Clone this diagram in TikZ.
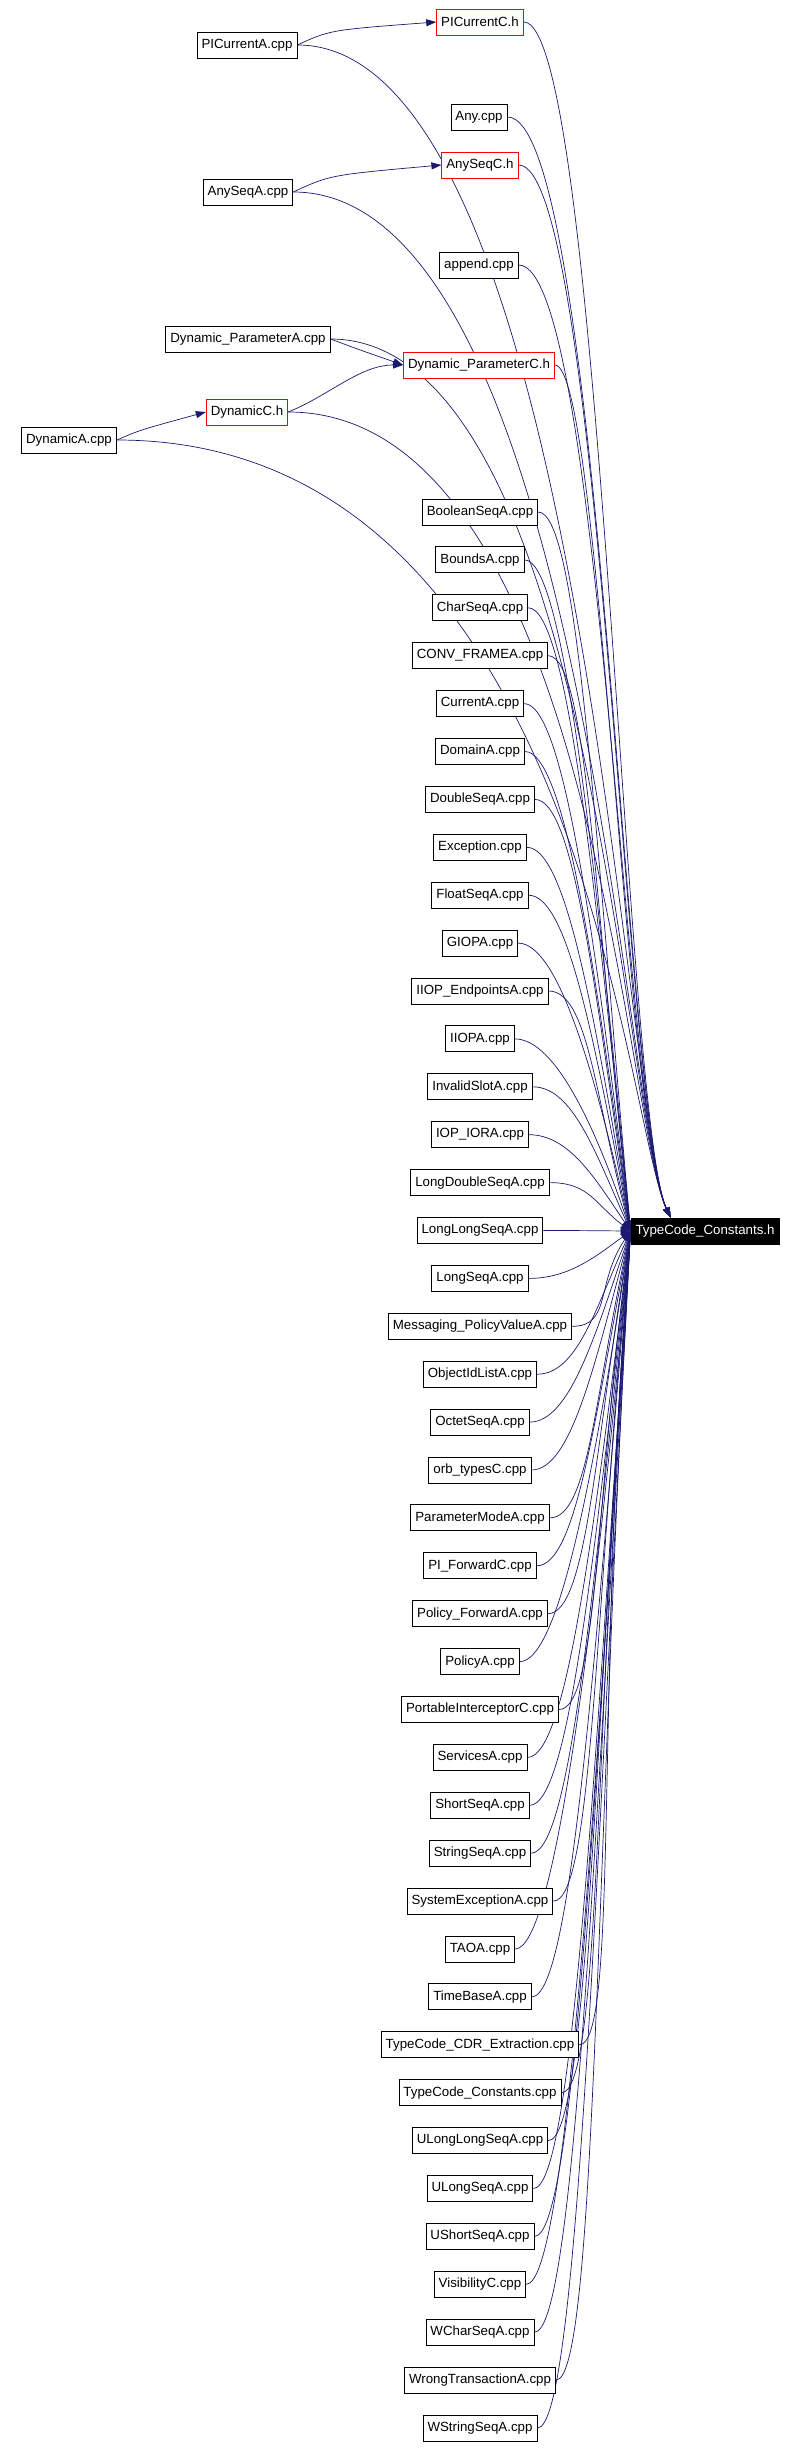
\documentclass[tikz,border=0pt]{standalone}
\usepackage{fontspec}
\setmainfont{Liberation Sans}
\usetikzlibrary{arrows.meta,calc,backgrounds}
\definecolor{edge}{RGB}{25,25,112}
\begin{document}
\begin{tikzpicture}[x=1pt,y=-1pt,
  box/.style={draw=black,line width=0.9pt,fill=white,font=\fontsize{13.3}{15}\selectfont,inner xsep=4.5pt,inner ysep=0pt,minimum height=26pt},
  rbox/.style={box,draw=red},
  tbox/.style={box,fill=black,text=white},
  arr/.style={draw=edge,line width=0.7pt,-{Triangle[length=10pt,width=7pt]}}]
\useasboundingbox (0,0) rectangle (795,2451);
\node[tbox] (T) at (705,1231) {TypeCode\_Constants.h};
\node[rbox] (pcc) at (480,22) {PICurrentC.h};
\node[box] (pca) at (247,45) {PICurrentA.cpp};
\node[box] (any) at (479,117) {Any.cpp};
\node[rbox] (asc) at (480,165) {AnySeqC.h};
\node[box] (asa) at (248,192) {AnySeqA.cpp};
\node[box] (app) at (479,265) {append.cpp};
\node[box] (dpa) at (248,339) {Dynamic\_ParameterA.cpp};
\node[rbox] (dpc) at (479,365) {Dynamic\_ParameterC.h};
\node[rbox] (dc) at (247,412) {DynamicC.h};
\node[box] (da) at (69,440) {DynamicA.cpp};
\foreach \t [count=\i from 0] in {BooleanSeqA.cpp,BoundsA.cpp,CharSeqA.cpp,CONV\_FRAMEA.cpp,CurrentA.cpp,DomainA.cpp,DoubleSeqA.cpp,Exception.cpp,FloatSeqA.cpp,GIOPA.cpp,IIOP\_EndpointsA.cpp,IIOPA.cpp,InvalidSlotA.cpp,IOP\_IORA.cpp,LongDoubleSeqA.cpp,LongLongSeqA.cpp,LongSeqA.cpp,Messaging\_PolicyValueA.cpp,ObjectIdListA.cpp,OctetSeqA.cpp,orb\_typesC.cpp,ParameterModeA.cpp,PI\_ForwardC.cpp,Policy\_ForwardA.cpp,PolicyA.cpp,PortableInterceptorC.cpp,ServicesA.cpp,ShortSeqA.cpp,StringSeqA.cpp,SystemExceptionA.cpp,TAOA.cpp,TimeBaseA.cpp,TypeCode\_CDR\_Extraction.cpp,TypeCode\_Constants.cpp,ULongLongSeqA.cpp,ULongSeqA.cpp,UShortSeqA.cpp,VisibilityC.cpp,WCharSeqA.cpp,WrongTransactionA.cpp,WStringSeqA.cpp}{
  \pgfmathsetmacro{\yy}{512+\i*47.9}
  \node[box] (n\i) at (480,\yy) {\t};
}
\begin{scope}[on background layer]
\draw[arr] (pca.east) .. controls (330,30) .. (pcc.west);
\draw[arr] (asa.east) .. controls (330,175) .. (asc.west);
\draw[arr] (dpa.east) .. controls (360,350) .. (dpc.west);
\draw[arr] (dc.east) .. controls (330,395) and (360,365) .. (dpc.west);
\draw[arr] (da.east) .. controls (140,430) .. (dc.west);
\foreach \n/\y/\cx in {pcc/22/600,pca/45/580,any/117/600,asc/165/600,asa/192/580,app/265/600,dpa/339/590,dpc/365/600,dc/412/590,da/440/580}{
  \draw[arr] (\n.east) .. controls (\cx,\y) and (625,1120) .. ($(T.north west)+(40,0)$);
}
\foreach \i in {0,...,40}{
  \pgfmathsetmacro{\yy}{512+\i*47.9}
  \pgfmathsetmacro{\cy}{1231+0.55*(\yy-1231)}
  \draw[arr] (n\i.east) .. controls ($(n\i.east)+(40,0)$) and (595,\cy) .. (T.west);
}
\end{scope}
\end{tikzpicture}
\end{document}
